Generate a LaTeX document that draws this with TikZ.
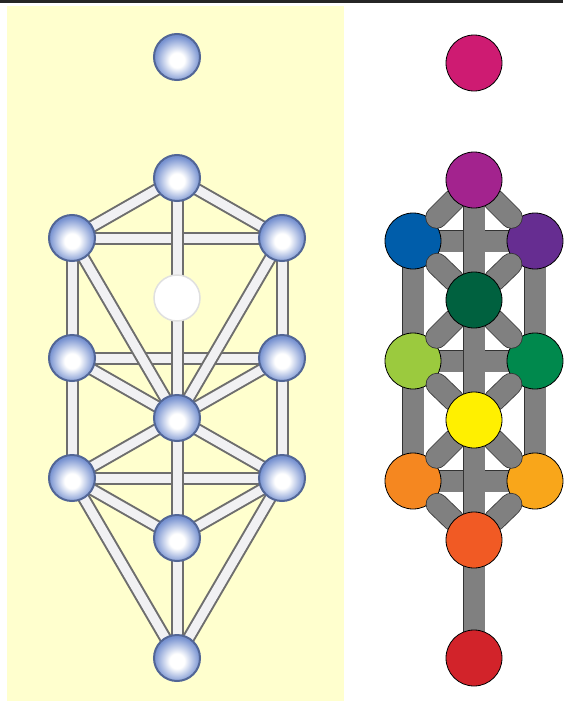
\documentclass[tikz,border=0pt]{standalone}
\usetikzlibrary{backgrounds}
\pgfdeclarelayer{front}
\pgfsetlayers{background,main,front}
\definecolor{paleyellow}{RGB}{255,255,206}
\definecolor{ballblue}{RGB}{118,145,208}
\definecolor{ballrim}{RGB}{82,102,150}
\definecolor{bargray}{RGB}{110,110,110}
\definecolor{barwhite}{RGB}{241,241,243}
\definecolor{bargrey}{RGB}{128,128,128}
\pgfdeclareradialshading{ballshade}{\pgfpoint{0bp}{-4bp}}{color(0bp)=(white);color(8bp)=(white);color(25bp)=(ballblue);color(50bp)=(ballblue)}
\begin{document}
\begin{tikzpicture}[x=1pt,y=-1pt,
  lball/.style={circle,inner sep=0pt,minimum size=46pt,draw=ballrim,line width=2pt,shade,shading=ballshade},
  lbar/.style={draw=bargray,line width=2pt,double=barwhite,double distance=9pt},
  rball/.style={circle,inner sep=0pt,minimum size=56pt,draw=black,line width=.8pt},
  rbar/.style={draw=black!80,line width=.8pt,double=bargrey,double distance=21pt},
  rdiag/.style={rbar,line cap=round,shorten >=5pt}]
\path[use as bounding box] (0,0) rectangle (563,701);
\draw[line width=3pt,black!85] (0,1.5) -- (563,1.5);
% left tree
\node[lball] (l0) at (177,57) {};
\node[lball] (l1) at (177,178) {};
\node[lball] (l2) at (282,238) {};
\node[lball] (l3) at (72,238) {};
\node[circle,inner sep=0pt,minimum size=46pt,fill=white,draw=black!12,line width=1.5pt] (ld) at (177,298) {};
\node[lball] (l4) at (282,358) {};
\node[lball] (l5) at (72,358) {};
\node[lball] (l6) at (177,418) {};
\node[lball] (l7) at (282,478) {};
\node[lball] (l8) at (72,478) {};
\node[lball] (l9) at (177,538) {};
\node[lball] (l10) at (177,658) {};
% right tree, side circles
\node[rball,fill={rgb,255:red,0;green,93;blue,170}] (r3) at (413,241) {};
\node[rball,fill={rgb,255:red,102;green,45;blue,145}] (r2) at (535,241) {};
\node[rball,fill={rgb,255:red,155;green,202;blue,62}] (r5) at (413,361) {};
\node[rball,fill={rgb,255:red,0;green,137;blue,77}] (r4) at (535,361) {};
\node[rball,fill={rgb,255:red,245;green,135;blue,32}] (r8) at (413,481) {};
\node[rball,fill={rgb,255:red,249;green,166;blue,26}] (r7) at (535,481) {};
% right tree, middle column
\begin{pgfonlayer}{front}
\node[rball,fill={rgb,255:red,206;green,27;blue,114}] (r0) at (474,63) {};
\node[rball,fill={rgb,255:red,163;green,35;blue,142}] (r1) at (474,180) {};
\node[rball,fill={rgb,255:red,0;green,97;blue,63}] (rd) at (474,300) {};
\node[rball,fill={rgb,255:red,255;green,240;blue,0}] (r6) at (474,420) {};
\node[rball,fill={rgb,255:red,241;green,90;blue,36}] (r9) at (474,540) {};
\node[rball,fill={rgb,255:red,210;green,35;blue,42}] (r10) at (474,658) {};
\end{pgfonlayer}
\foreach \a/\b in {r1/r3,r1/r2,rd/r3,rd/r2,rd/r5,rd/r4,r6/r5,r6/r4,r6/r8,r6/r7,r9/r8,r9/r7}
  \draw[rdiag] (\a) -- (\b);
\begin{pgfonlayer}{background}
\fill[paleyellow] (7,6) rectangle (344,701);
\foreach \a/\b in {l3/l2,l5/l4,l8/l7,l3/l5,l5/l8,l2/l4,l4/l7,l1/l3,l1/l2,l3/l6,l2/l6,l5/l6,l4/l6,l6/l8,l6/l7,l8/l9,l7/l9,l8/l10,l7/l10,l1/l6,l6/l9,l9/l10}
  \draw[lbar] (\a.center) -- (\b.center);
\foreach \a/\b in {r3/r2,r5/r4,r8/r7,r3/r8,r2/r7,r1/r10}
  \draw[rbar] (\a.center) -- (\b.center);
\end{pgfonlayer}
\end{tikzpicture}
\end{document}
